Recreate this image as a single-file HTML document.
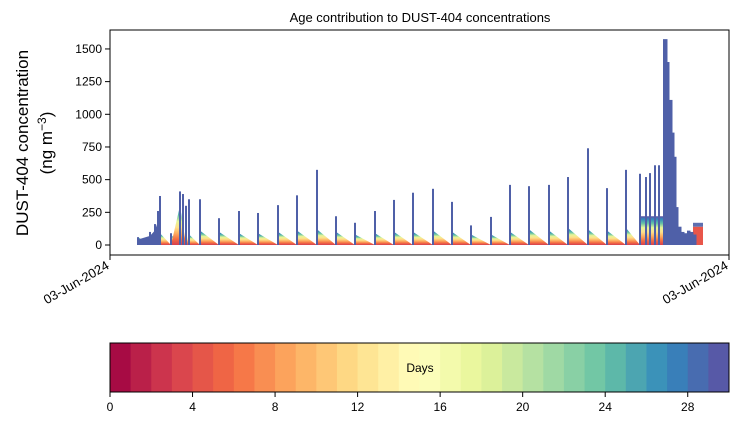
<!DOCTYPE html>
<html><head><meta charset="utf-8"><style>
body{margin:0;background:#fff;}
svg text{font-family:"Liberation Sans","DejaVu Sans",sans-serif;fill:#000;}
</style></head><body>
<svg id="c" width="739" height="425" xmlns="http://www.w3.org/2000/svg">
<defs>
<linearGradient id="tri" x1="0" y1="0" x2="0" y2="1">
<stop offset="0" stop-color="#5e4fa2"/><stop offset="0.1" stop-color="#3288bd"/><stop offset="0.25" stop-color="#66c2a5"/><stop offset="0.4" stop-color="#e6f598"/><stop offset="0.55" stop-color="#fee08b"/><stop offset="0.7" stop-color="#fdae61"/><stop offset="0.85" stop-color="#f46d43"/><stop offset="1" stop-color="#d53e4f"/>
</linearGradient>
</defs>
<text x="420" y="22" font-size="13" text-anchor="middle">Age contribution to DUST-404 concentrations</text>
<text transform="translate(28,143) rotate(-90)" font-size="17" text-anchor="middle">DUST-404 concentration</text>
<text transform="translate(52,143) rotate(-90)" font-size="17" text-anchor="middle">(ng m<tspan dy="-6" font-size="12">−3</tspan><tspan dy="6">)</tspan></text>
<g id="plot"></g>
<g id="yaxis"></g>
<rect x="110" y="30" width="619" height="225" fill="none" stroke="#000" stroke-width="1"/>
<g>
<line x1="110" y1="255" x2="110" y2="260" stroke="#000"/>
<line x1="729" y1="255" x2="729" y2="260" stroke="#000"/>
<text transform="translate(110,268) rotate(-30)" font-size="13" text-anchor="end">03-Jun-2024</text>
<text transform="translate(729,268) rotate(-30)" font-size="13" text-anchor="end">03-Jun-2024</text>
</g>
<g id="cbar"></g>
<rect x="110" y="343" width="619" height="49" fill="none" stroke="#000"/>
<text x="420" y="372" font-size="12" text-anchor="middle">Days</text>
</svg>
<script>
const yTicks=[0,250,500,750,1000,1250,1500];
const spikeTimes=[28,40,45,48,50,61,70,73,76,79,90,109,129,148,168,187,207,226,245,265,284,303,323,342,361,381,400,419,439,458,478,497,516,530,536,540,545,549];
const spikeValues=[60,100,160,260,375,90,410,390,300,350,350,205,260,245,305,380,575,220,170,260,345,400,430,330,150,215,460,450,460,520,740,435,575,545,520,550,610,610];
const decayLevels=[60,60,60,80,90,80,200,150,100,80,110,100,90,90,100,110,120,100,80,90,100,100,110,100,80,80,100,120,110,130,120,110,130,0,0,0,0,0];
const clusterTimes=[530,553];
const clusterLevels=[220,220];
const peakTimes=[553,557,559,562,564,566,568,571,574,577,580,583];
const peakValues=[1575,1400,1110,860,675,290,140,100,90,110,100,80];
const tailTimes=[583,593];
const tailValues=[170,140];
const cbTicks=[0,4,8,12,16,20,24,28];
const nDays=30;
const X=t=>110+t, Y=v=>245-v*0.1307;
const NS='http://www.w3.org/2000/svg';
function mk(p,tag,a){const e=document.createElementNS(NS,tag);for(const k in a)e.setAttribute(k,a[k]);p.appendChild(e);return e;}
const plot=document.getElementById('plot');
for(let i=0;i<spikeTimes.length;i++){
 const t0=spikeTimes[i],t1=i+1<spikeTimes.length?spikeTimes[i+1]:t0+2,L=decayLevels[i];
 if(L>0){const p=mk(plot,'polygon',{points:`${X(t0)},${Y(0)} ${X(t0)},${Y(L)} ${X(t1)},${Y(0)}`,fill:'url(#tri)'});
 
 }
}
{const r=mk(plot,'rect',{x:X(clusterTimes[0]),y:Y(clusterLevels[0]),width:X(clusterTimes[1])-X(clusterTimes[0]),height:Y(0)-Y(clusterLevels[0]),fill:'url(#tri)'});

}
{const r=mk(plot,'rect',{x:X(tailTimes[0]),y:Y(tailValues[1]),width:X(tailTimes[1])-X(tailTimes[0]),height:Y(0)-Y(tailValues[1]),fill:'#e8564a'});

}
{const r=mk(plot,'rect',{x:X(tailTimes[0]),y:Y(tailValues[0]),width:X(tailTimes[1])-X(tailTimes[0]),height:Y(tailValues[1])-Y(tailValues[0]),fill:'#5e6fb0'});

}
{const pts=[`${X(28)},${Y(0)}`];for(let i=0;i<5;i++)pts.push(`${X(spikeTimes[i])},${Y(spikeValues[i]*0.7)}`);pts.push(`${X(51)},${Y(0)}`);
const p=mk(plot,'polygon',{points:pts.join(' '),fill:'#4f60a8'});

}
{const p=mk(plot,'polygon',{points:`${X(61)},${Y(0)} ${X(70)},${Y(300)} ${X(76)},${Y(0)}`,fill:'url(#tri)'});

}
for(let i=0;i<spikeTimes.length;i++){
 const r=mk(plot,'rect',{x:X(spikeTimes[i])-1,y:Y(spikeValues[i]),width:2,height:Y(0)-Y(spikeValues[i]),fill:'#4f60a8'});
 
 
}
for(let i=0;i<peakTimes.length;i++){
 const w=(i+1<peakTimes.length?peakTimes[i+1]:peakTimes[i]+3)-peakTimes[i]+0.5;
 const r=mk(plot,'rect',{x:X(peakTimes[i]),y:Y(peakValues[i]),width:w,height:Y(0)-Y(peakValues[i]),fill:'#4f60a8'});
 
 
}
const ya=document.getElementById('yaxis');
yTicks.forEach(v=>{mk(ya,'line',{x1:105,x2:110,y1:Y(v),y2:Y(v),stroke:'#000'});
 const t=mk(ya,'text',{x:102,y:Y(v)+4,'font-size':12,'text-anchor':'end'});t.textContent=v;
 
 });
const spec=['#9e0142','#d53e4f','#f46d43','#fdae61','#fee08b','#ffffbf','#e6f598','#abdda4','#66c2a5','#3288bd','#5e4fa2'];
function h2r(h){return[1,3,5].map(i=>parseInt(h.substr(i,2),16));}
function cm(f){const s=f*10,i=Math.min(9,Math.floor(s)),u=s-i,a=h2r(spec[i]),b=h2r(spec[i+1]);return`rgb(${a.map((c,k)=>Math.round(c+(b[k]-c)*u)).join(',')})`;}
const cb=document.getElementById('cbar');const CX=d=>110+d/nDays*619;
for(let d=0;d<nDays;d++){const r=mk(cb,'rect',{x:CX(d),y:343,width:CX(d+1)-CX(d)+0.5,height:49,fill:cm((d+0.5)/nDays)});
 
 }
cbTicks.forEach(v=>{mk(cb,'line',{x1:CX(v),x2:CX(v),y1:392,y2:397,stroke:'#000'});
 const t=mk(cb,'text',{x:CX(v),y:411,'font-size':12,'text-anchor':'middle'});t.textContent=v;
 
 });
</script>
</body></html>
